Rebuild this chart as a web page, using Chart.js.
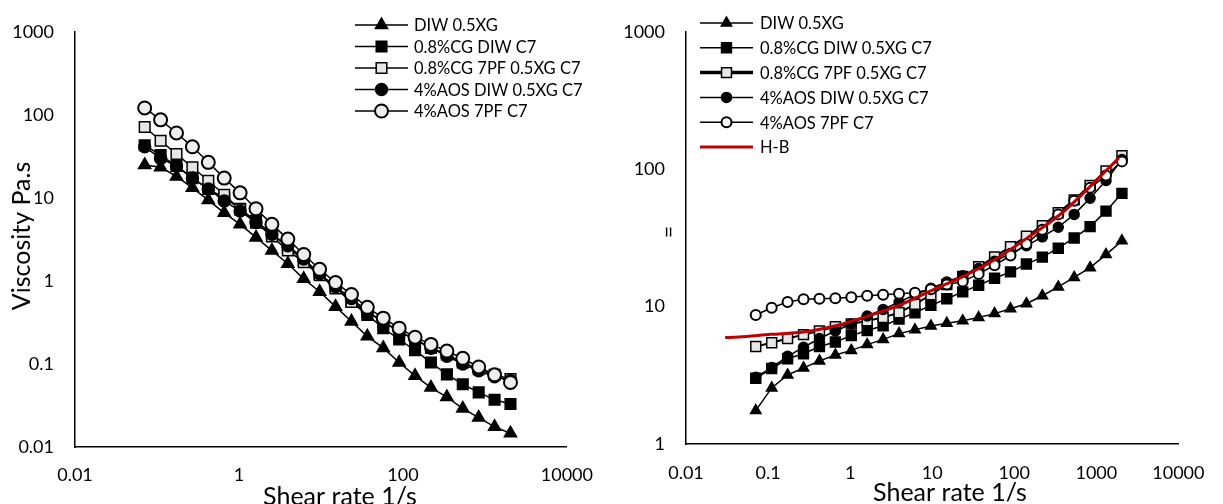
<!DOCTYPE html>
<html>
<head>
<meta charset="utf-8">
<script src="https://cdn.jsdelivr.net/npm/chart.js@4.4.0/dist/chart.umd.min.js"></script>
<style>
  html, body { margin: 0; padding: 0; background: #fff; }
  body { width: 1223px; height: 504px; position: relative; overflow: hidden; }
  .box { position: absolute; top: 0; height: 504px; }
  #left { left: 0; width: 610px; }
  #right { left: 610px; width: 613px; }
</style>
</head>
<body>
<div class="box" id="left"><canvas id="viscChart" width="610" height="504"></canvas></div>
<div class="box" id="right"><canvas id="stressChart" width="613" height="504"></canvas></div>
<script>
// shear rate (1/s), shared by all measured series
const shearRate = [0.0708, 0.1107, 0.173, 0.2704, 0.4227, 0.6607, 1.033, 1.614, 2.523, 3.945, 6.166, 9.638,
  15.07, 23.55, 36.81, 57.54, 89.95, 140.6, 219.8, 343.6, 537.0, 839.5, 1312, 2051];

const xTicksLeft = [0.01, 1, 100, 10000];
const yTicksLeft = [0.01, 0.1, 1, 10, 100, 1000];
const xTicksRight = [0.01, 0.1, 1, 10, 100, 1000, 10000];
const yTicksRight = [1, 10, 100, 1000];

// left chart: viscosity Pa.s
const viscDIW = [24.9, 23.4, 18.1, 13.2, 9.4, 6.6, 4.8, 3.34, 2.32, 1.61, 1.06, 0.74, 0.49, 0.325, 0.215, 0.156,
  0.104, 0.072, 0.052, 0.040, 0.029, 0.0226, 0.0175, 0.0146];
const viscCgDIW = [43.1, 32.7, 24.2, 17.3, 12.8, 10.0, 7.4, 5.28, 3.66, 2.54, 1.78, 1.21, 0.85, 0.56, 0.39, 0.27,
  0.197, 0.146, 0.104, 0.075, 0.057, 0.0455, 0.037, 0.033];
const viscCg7PF = [71.4, 48.7, 33.7, 23.4, 16.1, 10.9, 7.26, 5.04, 3.43, 2.32, 1.68, 1.17, 0.81, 0.56, 0.428, 0.319,
  0.247, 0.197, 0.156, 0.130, 0.104, 0.0865, 0.074, 0.066];
const viscAosDIW = [41.2, 29.9, 24.2, 17.3, 12.8, 9.2, 6.95, 5.04, 3.66, 2.66, 1.84, 1.22, 0.85, 0.615, 0.428, 0.325,
  0.247, 0.197, 0.155, 0.124, 0.100, 0.083, 0.070, 0.063];
const viscAos7PF = [121, 87, 60.5, 41.2, 26.8, 17.3, 11.5, 7.4, 4.8, 3.19, 2.08, 1.38, 0.955, 0.687, 0.481, 0.356,
  0.270, 0.210, 0.172, 0.143, 0.117, 0.092, 0.074, 0.060];

// right chart
const stressDIW = [1.75, 2.56, 3.18, 3.58, 4.02, 4.45, 4.80, 5.29, 5.77, 6.36, 6.78, 7.23, 7.56, 7.88, 8.32, 8.89,
  9.64, 10.5, 12.0, 13.9, 16.3, 19.2, 23.9, 30.1];
const stressCgDIW = [3.01, 3.54, 4.17, 4.54, 5.12, 5.52, 6.15, 6.70, 7.26, 8.10, 9.03, 10.2, 11.4, 12.8, 14.3, 16.1,
  17.9, 20.4, 22.9, 26.6, 31.6, 38.2, 49.5, 66.7];
const stressCg7PF = [5.12, 5.46, 5.86, 6.25, 6.64, 7.15, 7.47, 7.88, 8.32, 9.03, 10.4, 12.2, 14.5, 16.6, 19.5, 23.0,
  27.3, 32.5, 38.8, 48.2, 59.8, 76.3, 97.3, 125.6];
const stressAosDIW = [3.06, 3.60, 4.35, 5.06, 5.86, 6.64, 7.47, 8.55, 9.53, 10.8, 12.2, 13.6, 15.1, 16.8, 18.9, 21.4,
  24.3, 27.7, 32.2, 37.8, 46.9, 61.5, 82.8, 117.5];
const stressAos7PF = [8.69, 9.80, 10.8, 11.3, 11.4, 11.5, 11.7, 12.0, 12.2, 12.4, 12.6, 13.4, 14.5, 15.2, 17.3, 20.0,
  23.5, 28.6, 36.2, 46.9, 58.9, 73.2, 89.8, 114];

// H-B fit curve
const hbShearRate = [0.03, 0.044, 0.108, 0.268, 0.664, 1.65, 4.09, 10.1, 25.1, 62.4, 154.5, 384, 952, 1884];
const hbStress = [5.95, 6.0, 6.28, 6.53, 7.26, 8.55, 10.3, 13.2, 16.8, 22.6, 32.5, 48.2, 80.5, 121];

Chart.defaults.font.family = 'Lato';
Chart.defaults.color = '#000';

const pairs = (xs, ys) => xs.map((x, i) => ({ x: x, y: ys[i] }));

function series(label, ys, style, radius, fill, extra) {
  return Object.assign({
    label: label,
    data: pairs(shearRate, ys),
    borderColor: '#000',
    borderWidth: 1.5,
    pointStyle: style,
    pointRadius: radius,
    pointHoverRadius: radius,
    pointBackgroundColor: fill,
    pointBorderColor: '#000',
    pointBorderWidth: 1.5,
    tension: 0
  }, extra || {});
}

// legend with line + marker, plus free axis titles
const extrasPlugin = {
  id: 'extras',
  afterDatasetsDraw(chart, args, opts) {
    const ctx = chart.ctx;
    ctx.save();
    const lg = opts.legend;
    chart.data.datasets.forEach((ds, i) => {
      const y = lg.y + i * lg.rowGap;
      ctx.strokeStyle = ds.borderColor;
      ctx.lineWidth = ds.legendLineWidth || ds.borderWidth;
      ctx.beginPath();
      ctx.moveTo(lg.x, y);
      ctx.lineTo(lg.x + lg.lineLength, y);
      ctx.stroke();
      if (ds.pointRadius > 0) {
        ctx.fillStyle = ds.pointBackgroundColor;
        ctx.strokeStyle = ds.pointBorderColor;
        ctx.lineWidth = ds.pointBorderWidth;
        Chart.helpers.drawPoint(ctx, {
          pointStyle: ds.pointStyle,
          radius: ds.legendRadius || ds.pointRadius,
          borderWidth: ds.pointBorderWidth,
          rotation: 0
        }, lg.x + lg.lineLength / 2, y);
      }
      ctx.fillStyle = '#000';
      ctx.font = lg.font;
      ctx.textBaseline = 'middle';
      ctx.textAlign = 'left';
      ctx.fillText(ds.label, lg.x + lg.lineLength + lg.gap, y + 1);
    });
    opts.titles.forEach(t => {
      ctx.save();
      ctx.translate(t.x, t.y);
      ctx.rotate(t.rotation || 0);
      ctx.font = t.font;
      ctx.fillStyle = '#000';
      ctx.textAlign = 'center';
      ctx.textBaseline = 'alphabetic';
      ctx.fillText(t.text, 0, 0);
      ctx.restore();
    });
    ctx.restore();
  }
};

function logAxis(min, max, ticks, size, padding) {
  return {
    type: 'logarithmic',
    min: min,
    max: max,
    grid: { display: false, drawTicks: false },
    border: { display: true, color: '#000', width: 1.5 },
    ticks: {
      autoSkip: false,
      maxRotation: 0,
      padding: padding,
      font: { size: 18 },
      color: '#000',
      callback: (v) => String(v)
    },
    afterBuildTicks: (scale) => { scale.ticks = ticks.map(v => ({ value: v })); },
    afterFit: (scale) => {
      if (scale.isHorizontal()) scale.height = size; else scale.width = size;
    }
  };
}

new Chart(document.getElementById('viscChart'), {
  type: 'line',
  data: {
    datasets: [
      series('DIW 0.5XG', viscDIW, 'triangle', 7, '#000', { order: 4 }),
      series('0.8%CG DIW C7', viscCgDIW, 'rect', 7.5, '#000', { order: 3 }),
      series('0.8%CG 7PF 0.5XG C7', viscCg7PF, 'rect', 7.5, '#e6e6e6', { order: 2 }),
      series('4%AOS DIW 0.5XG C7', viscAosDIW, 'circle', 6, '#000', { order: 1 }),
      series('4%AOS 7PF C7', viscAos7PF, 'circle', 6.5, '#eeeeee', { order: 0, pointBorderWidth: 2 })
    ]
  },
  options: {
    responsive: false,
    animation: false,
    layout: { padding: { top: 27, right: 37, left: 0, bottom: 0 } },
    scales: {
      x: logAxis(0.01, 10000, xTicksLeft, 57, 17),
      y: logAxis(0.01, 1000, yTicksLeft, 75, 21)
    },
    plugins: {
      legend: { display: false },
      tooltip: { enabled: false },
      extras: {
        legend: { x: 355, y: 25, rowGap: 21.5, lineLength: 53, gap: 6, font: '16.5px Lato' },
        titles: [
          { text: 'Viscosity Pa.s', x: 30, y: 236, rotation: -Math.PI / 2, font: '25px Lato' },
          { text: 'Shear rate 1/s', x: 340, y: 505, font: '25px Lato' }
        ]
      }
    }
  },
  plugins: [extrasPlugin]
});

new Chart(document.getElementById('stressChart'), {
  type: 'line',
  data: {
    datasets: [
      series('DIW 0.5XG', stressDIW, 'triangle', 6, '#000', { order: 5 }),
      series('0.8%CG DIW 0.5XG C7', stressCgDIW, 'rect', 7, '#000', { order: 4 }),
      series('0.8%CG 7PF 0.5XG C7', stressCg7PF, 'rect', 7, '#e8e8e8', { order: 3, borderWidth: 2, legendLineWidth: 3.5 }),
      series('4%AOS DIW 0.5XG C7', stressAosDIW, 'circle', 5, '#000', { order: 2 }),
      series('4%AOS 7PF C7', stressAos7PF, 'circle', 5, '#fff', { order: 1, pointBorderWidth: 2 }),
      {
        label: 'H-B',
        data: pairs(hbShearRate, hbStress),
        borderColor: '#c00000',
        borderWidth: 3,
        pointRadius: 0,
        cubicInterpolationMode: 'monotone',
        order: 0
      }
    ]
  },
  options: {
    responsive: false,
    animation: false,
    layout: { padding: { top: 18, right: 30, left: 0, bottom: 0 } },
    scales: {
      x: logAxis(0.01, 10000, xTicksRight, 60, 18.5),
      y: logAxis(1, 1000, yTicksRight, 76, 21)
    },
    plugins: {
      legend: { display: false },
      tooltip: { enabled: false },
      extras: {
        legend: { x: 90, y: 23, rowGap: 24.8, lineLength: 53, gap: 7, font: '16.5px Lato' },
        titles: [
          { text: '=', x: 66, y: 232, rotation: -Math.PI / 2, font: '21px Lato' },
          { text: 'Shear rate 1/s', x: 340, y: 501, font: '25px Lato' }
        ]
      }
    }
  },
  plugins: [extrasPlugin]
});
</script>
</body>
</html>
